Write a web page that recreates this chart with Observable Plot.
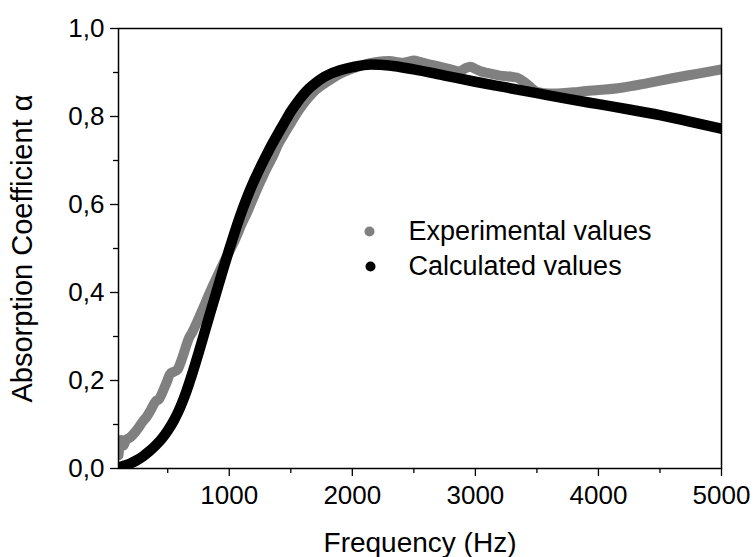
<!DOCTYPE html>
<html>
<head>
<meta charset="utf-8">
<script src="https://cdn.jsdelivr.net/npm/d3@7"></script>
<script src="https://cdn.jsdelivr.net/npm/@observablehq/plot@0.6"></script>
<style>
  html, body { margin: 0; padding: 0; background: #fff; }
  #chart { width: 753px; height: 557px; }
</style>
</head>
<body>
<div id="chart"></div>
<script>
// Calculated values (black)
const calcFreq = [100,150,200,250,300,350,400,450,500,550,600,650,700,750,800,850,900,950,1000,1050,1100,1150,1200,1250,1300,1350,1400,1450,1500,1550,1600,1650,1700,1750,1800,1900,2000,2150,2300,2500,2750,3000,3250,3500,3750,4000,4250,4500,4750,5000];
const calcAlpha = [0.003,0.007,0.012,0.019,0.028,0.039,0.052,0.067,0.086,0.109,0.138,0.174,0.216,0.262,0.31,0.358,0.405,0.452,0.498,0.542,0.583,0.62,0.653,0.683,0.711,0.738,0.763,0.787,0.811,0.831,0.849,0.864,0.876,0.886,0.894,0.905,0.912,0.918,0.916,0.907,0.893,0.879,0.866,0.853,0.84,0.828,0.816,0.803,0.788,0.772];

// Experimental values (grey)
const expFreq = [100,110,120,130,140,160,180,200,250,300,330,360,400,430,460,490,520,550,580,610,640,670,700,750,800,850,900,950,1000,1050,1100,1150,1200,1250,1300,1350,1400,1450,1500,1550,1600,1650,1700,1800,1900,2000,2100,2200,2300,2400,2450,2500,2550,2600,2700,2800,2870,2920,2960,3000,3050,3100,3200,3300,3350,3400,3450,3500,3600,3700,3800,3900,4000,4200,4400,4600,4800,5000];
const expAlpha = [0.03,0.055,0.065,0.06,0.052,0.065,0.068,0.072,0.088,0.108,0.118,0.132,0.152,0.158,0.175,0.195,0.215,0.22,0.225,0.245,0.27,0.295,0.31,0.34,0.372,0.405,0.435,0.465,0.493,0.522,0.555,0.585,0.618,0.65,0.68,0.707,0.738,0.762,0.785,0.808,0.828,0.845,0.86,0.88,0.897,0.909,0.918,0.924,0.926,0.922,0.924,0.927,0.924,0.92,0.914,0.907,0.902,0.91,0.913,0.908,0.902,0.899,0.893,0.89,0.887,0.878,0.866,0.856,0.852,0.853,0.855,0.858,0.86,0.866,0.876,0.887,0.897,0.907];

const xMajorTicks = [1000, 2000, 3000, 4000, 5000];
const xMinorTicks = [500, 1500, 2500, 3500, 4500];
const yMajorTicks = [0, 0.2, 0.4, 0.6, 0.8, 1.0];
const yMinorTicks = [0.1, 0.3, 0.5, 0.7, 0.9];

const seriesNames = ["Experimental values", "Calculated values"];
const seriesColors = ["#808080", "#000000"];

const xTitle = "Frequency (Hz)";
const yTitle = "Absorption Coefficient α";

const calc = calcFreq.map((f, i) => ({f, a: calcAlpha[i]}));
const exp = expFreq.map((f, i) => ({f, a: expAlpha[i]}));

const commaFmt = d => d.toFixed(1).replace(".", ",");

const chart = Plot.plot({
  width: 753,
  height: 557,
  marginLeft: 118,
  marginRight: 32,
  marginTop: 28,
  marginBottom: 89,
  style: {fontFamily: "'Liberation Sans', Arial, sans-serif", color: "#000", background: "#fff"},
  x: {domain: [100, 5000]},
  y: {domain: [0, 1]},
  marks: [
    Plot.line(exp, {x: "f", y: "a", stroke: seriesColors[0], strokeWidth: 10, strokeLinecap: "round", strokeLinejoin: "round", curve: "monotone-x", clip: true}),
    Plot.line(calc, {x: "f", y: "a", stroke: seriesColors[1], strokeWidth: 10.5, strokeLinecap: "round", strokeLinejoin: "round", curve: "monotone-x", clip: true}),
    Plot.frame({stroke: "#000", strokeWidth: 1.5}),
    Plot.axisX({ticks: xMajorTicks, tickSize: 8, tickPadding: 9, fontSize: 26, tickFormat: d => String(d), label: null, strokeWidth: 1.3}),
    Plot.axisX({ticks: xMinorTicks, tickSize: 5, tickFormat: () => "", label: null, strokeWidth: 1.3}),
    Plot.axisY({ticks: yMajorTicks, tickSize: 8, tickPadding: 6, fontSize: 26, tickFormat: commaFmt, label: null, strokeWidth: 1.3}),
    Plot.axisY({ticks: yMinorTicks, tickSize: 5, tickFormat: () => "", label: null, strokeWidth: 1.3}),
    Plot.text([xTitle], {frameAnchor: "bottom", dy: 75, fontSize: 28, lineAnchor: "middle", textAnchor: "middle"}),
    Plot.text([yTitle], {frameAnchor: "left", dx: -96, rotate: -90, fontSize: 29, lineAnchor: "middle", textAnchor: "middle"}),
    // legend
    Plot.dot([seriesNames[0]], {frameAnchor: "top-left", dx: 251, dy: 203, r: 5, fill: seriesColors[0], stroke: null}),
    Plot.dot([seriesNames[1]], {frameAnchor: "top-left", dx: 252, dy: 238, r: 5, fill: seriesColors[1], stroke: null}),
    Plot.text([seriesNames[0]], {frameAnchor: "top-left", dx: 290, dy: 203, fontSize: 27, textAnchor: "start", lineAnchor: "middle"}),
    Plot.text([seriesNames[1]], {frameAnchor: "top-left", dx: 290, dy: 238, fontSize: 27, textAnchor: "start", lineAnchor: "middle"})
  ]
});
document.getElementById("chart").appendChild(chart);
</script>
</body>
</html>
